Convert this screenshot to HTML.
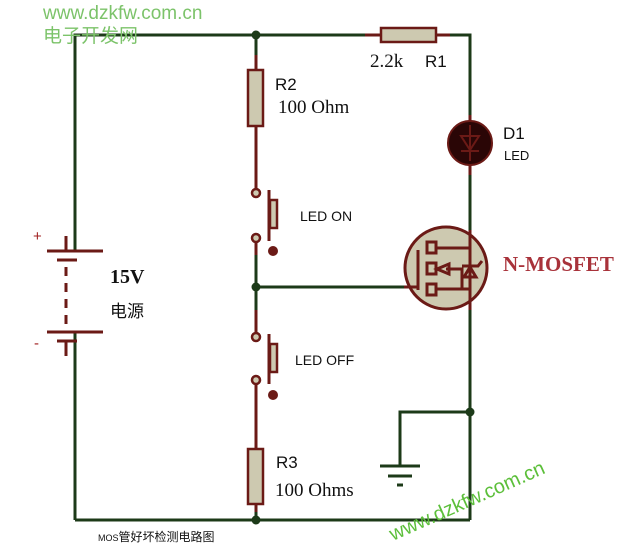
<!DOCTYPE html>
<html><head><meta charset="utf-8"><style>html,body{margin:0;padding:0;background:#fff;width:632px;height:551px;overflow:hidden}</style></head><body>
<svg width="632" height="551" viewBox="0 0 632 551" xmlns="http://www.w3.org/2000/svg" font-family="Liberation Sans, sans-serif">
<g stroke="#1c3a18" stroke-width="3" fill="none">
<polyline points="75,250 75,35 380,35"/>
<polyline points="436,35 470,35 470,122"/>
<line x1="75" y1="332" x2="75" y2="520"/>
<line x1="75" y1="520" x2="470" y2="520"/>
<line x1="470" y1="165" x2="470" y2="520"/>
<line x1="256" y1="35" x2="256" y2="70"/>
<line x1="256" y1="250" x2="256" y2="330"/>
<line x1="256" y1="500" x2="256" y2="520"/>
<line x1="256" y1="287" x2="405" y2="287"/>
<polyline points="470,412 400,412 400,466"/>
<line x1="380" y1="466" x2="420" y2="466"/>
<line x1="388" y1="476" x2="412" y2="476"/>
<line x1="397" y1="485" x2="403" y2="485"/>
</g>
<g fill="#1c3a18">
<circle cx="256" cy="35" r="4.5"/><circle cx="256" cy="287" r="4.5"/><circle cx="256" cy="520" r="4.5"/><circle cx="470" cy="412" r="4.5"/>
</g>
<g stroke="#6b1a16" stroke-width="3" fill="none">
<line x1="256" y1="55" x2="256" y2="188"/>
<line x1="256" y1="243" x2="256" y2="255"/>
<line x1="256" y1="310" x2="256" y2="332"/>
<line x1="256" y1="385" x2="256" y2="449"/>
<line x1="256" y1="504" x2="256" y2="512"/>
<line x1="365" y1="35" x2="450" y2="35"/>
<line x1="470" y1="115" x2="470" y2="175"/>
<line x1="66" y1="236" x2="66" y2="251"/>
<line x1="47" y1="251" x2="103" y2="251"/>
<line x1="57" y1="260" x2="77" y2="260"/>
<line x1="66" y1="267" x2="66" y2="325" stroke-dasharray="9,7"/>
<line x1="47" y1="332" x2="103" y2="332"/>
<line x1="57" y1="341" x2="77" y2="341"/>
<line x1="66" y1="341" x2="66" y2="356"/>
<line x1="269" y1="190" x2="269" y2="241"/>
<line x1="269" y1="334" x2="269" y2="384"/>
</g>
<g stroke="#6b1a16" stroke-width="2.5" fill="#cdc9b0">
<rect x="248" y="70" width="15" height="56"/>
<rect x="248" y="449" width="15" height="55"/>
<rect x="381" y="28" width="55" height="14"/>
<rect x="270" y="200" width="7" height="28"/>
<rect x="270" y="344" width="7" height="28"/>
<circle cx="256" cy="193" r="4"/><circle cx="256" cy="238" r="4"/>
<circle cx="256" cy="337" r="4"/><circle cx="256" cy="380" r="4"/>
</g>
<g fill="#6b1a16"><circle cx="273" cy="251" r="5"/><circle cx="273" cy="395" r="5"/></g>
<circle cx="470" cy="143" r="22" fill="#2a0606" stroke="#6b1a16" stroke-width="2"/>
<g stroke="#6b1a16" stroke-width="2" fill="none"><polygon points="461,136 479,136 470,150"/><line x1="461" y1="151" x2="479" y2="151"/><line x1="470" y1="125" x2="470" y2="161"/></g>
<circle cx="446" cy="268" r="41" fill="#cdc9b0" stroke="#6b1a16" stroke-width="3"/>
<g stroke="#6b1a16" stroke-width="3" fill="none">
<line x1="404" y1="287" x2="418" y2="287"/>
<line x1="418" y1="250" x2="418" y2="290"/>
<rect x="427" y="242" width="9" height="11"/><rect x="427" y="263" width="9" height="11"/><rect x="427" y="284" width="9" height="11"/>
<polyline points="436,248 470,248"/><polyline points="436,289 470,289"/>
<polyline points="446,269 462,269 462,289"/>
<line x1="470" y1="230" x2="470" y2="310"/>
<polygon points="437,269 449,264 449,274"/>
<polygon points="464,277 476,277 470,267"/>
<polyline points="462,266 478,266 482,261"/>
</g>
<g font-size="17" fill="#111">
<text x="275" y="90">R2</text>
<text x="278" y="113" font-family="Liberation Serif, serif" font-size="19">100 Ohm</text>
<text x="370" y="67" font-family="Liberation Serif, serif" font-size="19">2.2k</text>
<text x="425" y="67">R1</text>
<text x="503" y="139">D1</text>
<text x="504" y="160" font-size="13">LED</text>
<text x="300" y="221" font-size="14">LED ON</text>
<text x="295" y="365" font-size="14">LED OFF</text>
<text x="276" y="468">R3</text>
<text x="275" y="496" font-family="Liberation Serif, serif" font-size="19">100 Ohms</text>
<text x="110" y="283" font-family="Liberation Serif, serif" font-weight="bold" font-size="20">15V</text>
<text x="110" y="317" font-family="Liberation Sans, Noto Sans CJK SC, sans-serif" font-size="17">电源</text>
<text x="98" y="541" font-family="Liberation Sans, Noto Sans CJK SC, sans-serif" font-size="12"><tspan font-size="9">MOS</tspan>管好坏检测电路图</text>
</g>
<text x="33" y="241" fill="#a02020" font-size="15">+</text>
<text x="34" y="348" fill="#a02020" font-size="15">-</text>
<text x="503" y="271" fill="#a8323a" font-family="Liberation Serif, serif" font-weight="bold" font-size="21">N-MOSFET</text>
<text x="43" y="19" fill="#7cc36a" font-size="19">www.dzkfw.com.cn</text>
<text x="43" y="42" fill="#7cc36a" font-family="Liberation Sans, Noto Sans CJK SC, sans-serif" font-size="19">电子开发网</text>
<text x="0" y="0" fill="#5cbf3a" font-size="20" transform="translate(393,541) rotate(-24)">www.dzkfw.com.cn</text>
</svg>
</body></html>
